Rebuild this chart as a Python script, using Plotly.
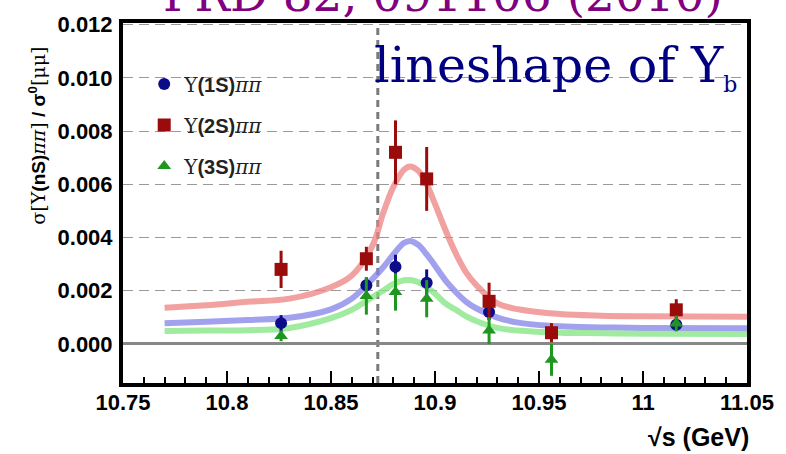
import plotly.graph_objects as go

# ---------------- data ----------------
energy = [10.826, 10.867, 10.881, 10.896, 10.926, 10.956, 11.016]

y1s = [0.00078, 0.0022, 0.0029, 0.0023, 0.0012, 0.0004, 0.00072]
e1s = [0.0003, 0.0003, 0.00045, 0.0005, 0.0003, 0.0002, 0.0002]

y2s = [0.0028, 0.0032, 0.0072, 0.0062, 0.0016, 0.00042, 0.00128]
e2s = [0.0007, 0.00045, 0.0012, 0.0012, 0.0007, 0.00036, 0.0004]

y3s = [0.0003, 0.0018, 0.00195, 0.0017, 0.0005, -0.0006, 0.00077]
e3s = [0.0002, 0.0007, 0.0007, 0.0007, 0.0005, 0.0006, 0.0003]

fit_x = [10.77, 10.79, 10.81, 10.83, 10.85, 10.86, 10.87, 10.875, 10.88, 10.885,
         10.888, 10.892, 10.896, 10.90, 10.905, 10.91, 10.915, 10.92, 10.93,
         10.94, 10.96, 10.98, 11.0, 11.05]
fit_2s = [0.00136, 0.00145, 0.00158, 0.0017, 0.00213, 0.00257, 0.0037, 0.0049, 0.0059,
          0.00654, 0.00667, 0.0065, 0.006, 0.00526, 0.00428, 0.0034, 0.00268, 0.0022,
          0.00152, 0.0013, 0.00112, 0.00106, 0.00104, 0.00102]
fit_1s = [0.00078, 0.00083, 0.0009, 0.00098, 0.0013, 0.0017, 0.00244, 0.00287, 0.00336,
          0.00379, 0.00387, 0.00372, 0.00336, 0.00294, 0.00239, 0.00195, 0.00158, 0.00133,
          0.00099, 0.0008, 0.00066, 0.00062, 0.0006, 0.00059]
fit_3s = [0.00048, 0.0005, 0.00051, 0.0006, 0.00097, 0.00128, 0.00176, 0.002, 0.00225,
          0.00239, 0.0024, 0.00232, 0.00213, 0.00189, 0.00152, 0.00128, 0.00103, 0.00085,
          0.0006, 0.0005, 0.00042, 0.0004, 0.00038, 0.00037]

threshold_x = 10.8725

x_ticks = [10.75, 10.8, 10.85, 10.9, 10.95, 11.0, 11.05]
x_ticklabels = ["10.75", "10.8", "10.85", "10.9", "10.95", "11", "11.05"]
y_ticks = [0.0, 0.002, 0.004, 0.006, 0.008, 0.010, 0.012]
y_ticklabels = ["0.000", "0.002", "0.004", "0.006", "0.008", "0.010", "0.012"]

SERIF = "DejaVu Serif"
SANS = "Liberation Sans, Arial"

def lab(n):
    return (f"<span style='font-family:{SERIF}'>Υ</span><b>({n}S)</b>"
            f"<span style='font-family:{SERIF}'><i>ππ</i></span>")

fig = go.Figure()

# fit curves
for fy, col in [(fit_2s, "rgba(238,130,130,0.75)"),
                (fit_1s, "rgba(130,130,232,0.75)"),
                (fit_3s, "rgba(130,228,130,0.75)")]:
    fig.add_trace(go.Scatter(x=fit_x, y=fy, mode="lines", line=dict(color=col, width=6, shape="spline"),
                             showlegend=False, hoverinfo="skip"))

# data points
series = [
    (y1s, e1s, "#0c0c8a", "circle", 12, lab(1), "g1"),
    (y2s, e2s, "#9a0c0c", "square", 13, lab(2), "g2"),
    (y3s, e3s, "#1f961f", "triangle-up", 12, lab(3), "g3"),
]
for yy, ee, col, sym, sz, name, grp in series:
    fig.add_trace(go.Scatter(
        x=energy, y=yy, mode="markers", name=name, legendgroup=grp,
        marker=dict(color=col, symbol=sym, size=sz, line=dict(width=0)),
        error_y=dict(type="data", array=ee, visible=True, color=col, thickness=3, width=0),
    ))

fig.add_shape(type="line", x0=threshold_x, x1=threshold_x, xref="x", yref="paper", y0=0, y1=1,
              line=dict(color="#7a7a7a", width=3, dash="7px,5px"), layer="below")

fig.update_layout(
    width=786, height=454,
    margin=dict(l=123, r=38, t=15, b=71),
    paper_bgcolor="white", plot_bgcolor="white",
    showlegend=True,
    legend=dict(x=0.034, y=0.885, xanchor="left", yanchor="top", bgcolor="rgba(0,0,0,0)",
                font=dict(family=SANS, size=20, color="#222"), traceorder="grouped",
                tracegroupgap=12, itemsizing="trace"),
    xaxis=dict(range=[10.75, 11.05], tickvals=x_ticks, ticktext=x_ticklabels,
               ticks="inside", ticklen=12, tickwidth=2, tickcolor="black",
               minor=dict(dtick=0.01, tick0=10.75, ticks="inside", ticklen=6, tickwidth=2, tickcolor="black", showgrid=False),
               showline=True, linecolor="black", linewidth=4, mirror=True,
               showgrid=False, zeroline=False,
               tickfont=dict(family=SANS, size=22, color="black", weight="bold"), ticklabelstandoff=-3),
    yaxis=dict(range=[-0.00147, 0.01206], tickvals=y_ticks, ticktext=y_ticklabels,
               ticks="", showline=True, linecolor="black", linewidth=4, mirror=True,
               showgrid=True, gridcolor="#9a9a9a", gridwidth=1.2, griddash="10px,6px",
               zeroline=True, zerolinecolor="#888888", zerolinewidth=3,
               tickfont=dict(family=SANS, size=22, color="black", weight="bold"), ticklabelstandoff=2),
)

annotations = [
    dict(text="PRD 82, 091106 (2010)", xref="paper", yref="paper", x=0.5136, y=1.0,
         yshift=-1, xanchor="center", yanchor="bottom", showarrow=False,
         font=dict(family=SERIF, size=47, color="#800080")),
    dict(text="lineshape of Y<sub><span style='font-size:22px'>b</span></sub>", xref="paper", yref="paper",
         x=0.987, y=(383 - 60) / 368, xanchor="right", yanchor="middle", showarrow=False,
         font=dict(family=SERIF, size=49, color="#000080")),
    dict(text="<b>√s (GeV)</b>", xref="paper", yref="paper", x=1.006, y=(383 - 438) / 368,
         xanchor="right", yanchor="middle", showarrow=False,
         font=dict(family=SANS, size=25, color="black")),
    dict(text=(f"<span style='font-family:{SERIF}'>σ[Υ</span><b>(nS)</b>"
               f"<span style='font-family:{SERIF}'><i>ππ</i>]</span><b> / σ<sup>0</sup></b>"
               f"<span style='font-family:{SERIF}'>[μμ]</span>"),
         xref="paper", yref="paper", x=(36 - 123) / 625, y=(383 - 130) / 368,
         xanchor="center", yanchor="middle", textangle=-90, showarrow=False,
         font=dict(family=SANS, size=19, color="black")),
]
fig.update_layout(annotations=annotations)

fig.write_html("out.html")
